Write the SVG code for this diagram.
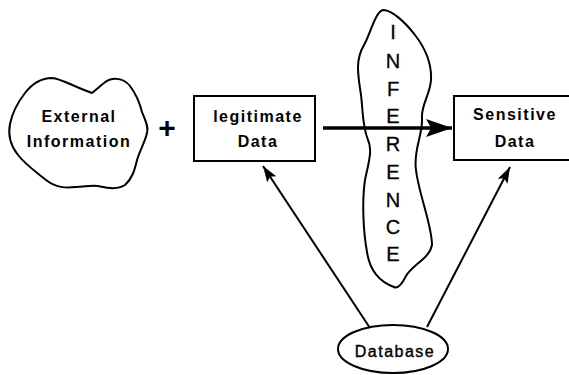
<svg xmlns="http://www.w3.org/2000/svg" width="569" height="375" viewBox="0 0 569 375">
<style>
.shape{fill:none;stroke:#000;stroke-width:2}
.lbl{font-family:"Liberation Sans",Arial,sans-serif;font-size:16px;font-weight:bold;letter-spacing:1.5px;text-anchor:middle;fill:#000}
.db{font-family:"Liberation Sans",Arial,sans-serif;font-size:16px;letter-spacing:1.5px;text-anchor:middle;fill:#000;stroke:#000;stroke-width:0.4}
.inf{font-family:"Liberation Sans",Arial,sans-serif;font-size:20px;text-anchor:middle;fill:#000;stroke:#000;stroke-width:0.3}
.conn{fill:none;stroke:#000;stroke-width:2}
</style>
<defs>
<marker id="ah" viewBox="0 0 10 10" refX="10" refY="5" markerWidth="16" markerHeight="11" markerUnits="userSpaceOnUse" orient="auto" preserveAspectRatio="none">
<path d="M0,0 L10,5 L0,10 L2,5 Z" fill="#000"/>
</marker>
<marker id="ahbig" viewBox="0 0 10 10" refX="10" refY="5" markerWidth="26" markerHeight="18" markerUnits="userSpaceOnUse" orient="auto" preserveAspectRatio="none">
<path d="M0,0 L10,5 L0,10 L2,5 Z" fill="#000"/>
</marker>
</defs>
<rect width="569" height="375" fill="#fff"/>
<g id="external">
<path class="shape" d="M25,93 C32,84 42,78 52,78 C62,79 70,85 92,93 C96,90 100,86 104,83 C110,78 122,76 130,86 C136,94 140,104 142,112 C145,120 149,127 147,133 C145,142 140,150 137,160 C135,168 133,178 125,185 C117,190 108,188 98,186 C90,185 84,187 76,187 C66,188 56,188 46,180 C36,172 26,165 18,155 C10,145 8,134 10,124 C12,114 18,102 25,93 Z"/>
<text class="lbl" x="79" y="122">External</text>
<text class="lbl" x="79" y="147">Information</text>
</g>
<g id="plus">
<text x="167" y="138" font-family="Liberation Sans, Arial, sans-serif" font-size="30" font-weight="bold" text-anchor="middle">+</text>
</g>
<g id="legitimate">
<rect class="shape" x="194" y="96" width="121" height="65"/>
<text class="lbl" x="258" y="122">legitimate</text>
<text class="lbl" x="258" y="147">Data</text>
</g>
<g id="inference">
<path class="shape" d="M383,10 C392,10 405,22 415,35 C425,48 432,62 431,80 C430,95 421,105 422,118 C423,135 413,150 416,170 C419,195 432,225 432,245 C430,258 412,265 406,276 C402,284 398,289 394,287 C380,282 370,272 367,252 C363,230 362,200 365,180 C368,165 373,150 368,140 C362,125 363,110 361,95 C358,75 355,60 364,45 C370,35 375,12 383,10 Z"/>
<text class="inf" x="393" y="39">I</text>
<text class="inf" x="393" y="68">N</text>
<text class="inf" x="393" y="96">F</text>
<text class="inf" x="393" y="123">E</text>
<text class="inf" x="393" y="151">R</text>
<text class="inf" x="393" y="179">E</text>
<text class="inf" x="393" y="207">N</text>
<text class="inf" x="393" y="234">C</text>
<text class="inf" x="393" y="261">E</text>
</g>
<g id="sensitive">
<rect class="shape" x="454" y="96" width="130" height="64"/>
<text class="lbl" x="515" y="120">Sensitive</text>
<text class="lbl" x="515" y="147">Data</text>
</g>
<g id="database">
<ellipse class="shape" cx="393" cy="349" rx="55" ry="24"/>
<text class="db" x="395" y="357">Database</text>
</g>
<g id="connectors">
<line x1="323" y1="128" x2="452" y2="128" stroke="#000" stroke-width="3.5" marker-end="url(#ahbig)"/>
<line class="conn" x1="370" y1="328" x2="263" y2="166" marker-end="url(#ah)"/>
<line class="conn" x1="427" y1="327" x2="510" y2="167" marker-end="url(#ah)"/>
</g>
</svg>
